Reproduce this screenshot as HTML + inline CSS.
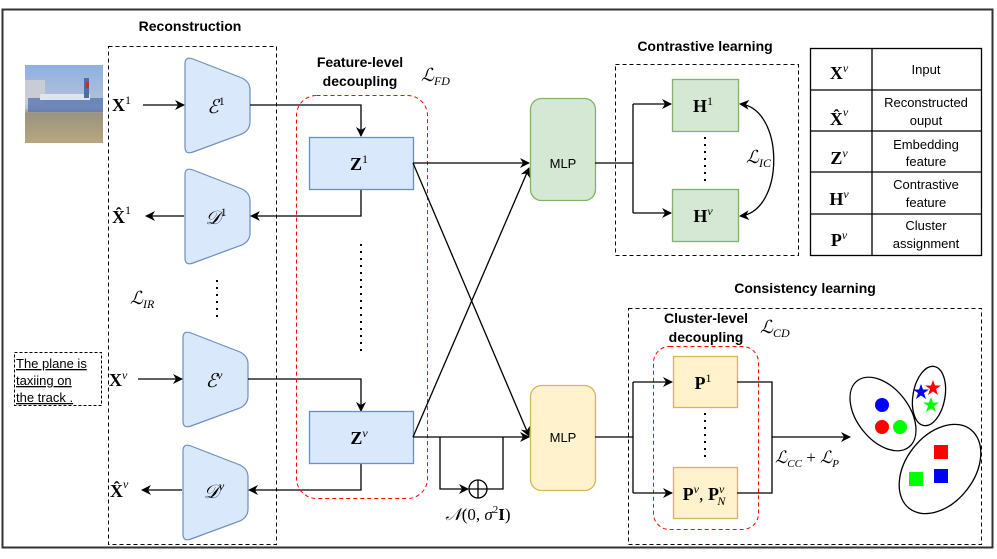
<!DOCTYPE html>
<html><head><meta charset="utf-8"><style>
html,body{margin:0;padding:0;background:#fff}
svg{display:block}
.t{font-family:"Liberation Sans",sans-serif}
.m{font-family:"Liberation Serif",serif}
</style></head><body>
<svg width="997" height="559" viewBox="0 0 997 559" xmlns="http://www.w3.org/2000/svg">
<defs>
<marker id="a" markerWidth="10" markerHeight="10" refX="9" refY="5" orient="auto" markerUnits="userSpaceOnUse"><path d="M0,0 L10,5 L0,10 L3,5 z" fill="#000"/></marker>
<marker id="b" markerWidth="10" markerHeight="10" refX="1" refY="5" orient="auto" markerUnits="userSpaceOnUse"><path d="M10,0 L0,5 L10,10 L7,5 z" fill="#000"/></marker>
<linearGradient id="sky" x1="0" y1="0" x2="0" y2="1"><stop offset="0" stop-color="#8fb0e0"/><stop offset="0.55" stop-color="#b8c4d8"/><stop offset="0.62" stop-color="#9a9480"/><stop offset="1" stop-color="#b8a67e"/></linearGradient>
</defs>
<rect x="2.5" y="9.5" width="990" height="538" fill="none" stroke="#333" stroke-width="2"/>

<!-- Reconstruction -->
<text x="190" y="31" class="t" font-size="14" font-weight="bold" text-anchor="middle">Reconstruction</text>
<rect x="108.5" y="46.5" width="168" height="498" fill="none" stroke="#000" stroke-dasharray="4,3"/>
<rect x="25" y="65" width="78" height="78" fill="url(#sky)"/>
<rect x="25" y="80" width="20" height="25" fill="#c8ccd4"/>
<rect x="28" y="98" width="75" height="14" fill="#5a78b0" opacity="0.8"/>
<rect x="40" y="94" width="50" height="6" fill="#e0e4ee"/>
<rect x="84" y="78" width="5" height="20" fill="#4a6ea8"/>
<rect x="86" y="82" width="3" height="6" fill="#c03030"/>

<g fill="#dae8fc" stroke="#6c8ebf" stroke-width="1.2">
<path d="M185,64 Q185,56 193,59 L242,78 Q250,82 250,90 L250,122 Q250,130 242,134 L193,152 Q185,155 185,147 Z"/>
<path d="M185,175 Q185,167 193,170 L242,189 Q250,193 250,201 L250,233 Q250,241 242,245 L193,263 Q185,266 185,258 Z"/>
<path d="M183,338 Q183,330 191,333 L240,352 Q248,356 248,364 L248,396 Q248,404 240,408 L191,426 Q183,429 183,421 Z"/>
<path d="M183,451 Q183,443 191,446 L240,465 Q248,469 248,477 L248,509 Q248,517 240,521 L191,539 Q183,542 183,534 Z"/>
</g>
<g class="m" font-style="italic" font-size="19" text-anchor="middle">
<text x="216" y="113">ℰ<tspan font-size="12" dy="-8" font-style="normal">1</tspan></text>
<text x="216" y="224">𝒟<tspan font-size="12" dy="-8" font-style="normal">1</tspan></text>
<text x="214" y="387">ℰ<tspan font-size="12" dy="-8">ν</tspan></text>
<text x="214" y="498">𝒟<tspan font-size="12" dy="-8">v</tspan></text>
</g>
<g class="m" font-weight="bold" font-size="18">
<text x="112" y="111">X<tspan font-size="12" dy="-7" font-weight="normal">1</tspan></text>
<text x="112" y="223">X̂<tspan font-size="12" dy="-9" font-weight="normal">1</tspan></text>
<text x="109" y="386">X<tspan font-size="12" dy="-7" font-weight="normal" font-style="italic">v</tspan></text>
<text x="110" y="497">X̂<tspan font-size="12" dy="-9" font-weight="normal" font-style="italic">ν</tspan></text>
</g>
<text x="130" y="304" class="m" font-style="italic" font-size="18">ℒ<tspan font-size="12" dy="4">IR</tspan></text>
<line x1="217" y1="280" x2="217" y2="318" stroke="#000" stroke-width="2" stroke-dasharray="2,5"/>
<rect x="14.5" y="352.5" width="87" height="53" fill="none" stroke="#000" stroke-dasharray="3,2"/>
<g class="t" font-size="13" text-decoration="underline"><text x="16" y="368">The plane is</text><text x="16" y="385">taxiing on</text><text x="16" y="402">the track .</text></g>

<g stroke="#000" stroke-width="1.3" fill="none">
<line x1="143" y1="105" x2="184" y2="105" marker-end="url(#a)"/>
<line x1="184" y1="216" x2="146" y2="216" marker-end="url(#a)"/>
<line x1="138" y1="379" x2="182" y2="379" marker-end="url(#a)"/>
<line x1="182" y1="490" x2="142" y2="490" marker-end="url(#a)"/>
<polyline points="250,105 361,105 361,136" marker-end="url(#a)"/>
<polyline points="361,190 361,216 251,216" marker-end="url(#a)"/>
<polyline points="248,379 361,379 361,411" marker-end="url(#a)"/>
<polyline points="361,463 361,490 249,490" marker-end="url(#a)"/>
</g>

<!-- feature-level -->
<text x="360" y="67" class="t" font-size="14" font-weight="bold" text-anchor="middle">Feature-level</text>
<text x="360" y="86" class="t" font-size="14" font-weight="bold" text-anchor="middle">decoupling</text>
<text x="421" y="81" class="m" font-style="italic" font-size="18">ℒ<tspan font-size="12" dy="4">FD</tspan></text>
<rect x="296.5" y="95.5" width="131" height="403" rx="20" fill="none" stroke="#f00" stroke-dasharray="4,3"/>
<rect x="309.5" y="137.5" width="104" height="52" fill="#dae8fc" stroke="#6c8ebf" stroke-width="1.3"/>
<rect x="309.5" y="411.5" width="104" height="52" fill="#dae8fc" stroke="#6c8ebf" stroke-width="1.3"/>
<g class="m" font-weight="bold" font-size="18" text-anchor="middle">
<text x="359" y="170">Z<tspan font-size="12" dy="-7" font-weight="normal">1</tspan></text>
<text x="359" y="444">Z<tspan font-size="12" dy="-7" font-weight="normal" font-style="italic">ν</tspan></text>
</g>
<line x1="361" y1="244" x2="361" y2="352" stroke="#000" stroke-width="2" stroke-dasharray="2,5"/>

<g stroke="#000" stroke-width="1.3" fill="none">
<line x1="413" y1="163" x2="529" y2="163" marker-end="url(#a)"/>
<line x1="413" y1="163" x2="529" y2="436" marker-end="url(#a)"/>
<line x1="413" y1="437" x2="529" y2="168" marker-end="url(#a)"/>
<line x1="413" y1="437" x2="529" y2="437" marker-end="url(#a)"/>
<polyline points="440,437 440,489 468,489" marker-end="url(#a)"/>
<polyline points="487,489 503,489 503,437"/>
<circle cx="478" cy="489" r="9"/>
<line x1="469" y1="489" x2="487" y2="489"/><line x1="478" y1="480" x2="478" y2="498"/>
</g>
<text x="478" y="520" class="m" font-size="17" text-anchor="middle"><tspan font-style="italic">𝒩</tspan>(0, <tspan font-style="italic">σ</tspan><tspan font-size="11" dy="-7">2</tspan><tspan dy="7" font-weight="bold">I</tspan>)</text>

<!-- MLPs -->
<rect x="530.5" y="98.5" width="65" height="102" rx="11" fill="#d5e8d4" stroke="#82b366" stroke-width="1.3"/>
<rect x="530.5" y="385.5" width="65" height="105" rx="11" fill="#fff2cc" stroke="#d6b656" stroke-width="1.3"/>
<text x="563" y="168" class="t" font-size="13" text-anchor="middle">MLP</text>
<text x="563" y="442" class="t" font-size="13" text-anchor="middle">MLP</text>

<!-- contrastive -->
<text x="705" y="51" class="t" font-size="14" font-weight="bold" text-anchor="middle">Contrastive learning</text>
<rect x="615.5" y="64.5" width="183" height="191" fill="none" stroke="#000" stroke-dasharray="4,3"/>
<rect x="672.5" y="79.5" width="66" height="52" fill="#d5e8d4" stroke="#82b366" stroke-width="1.3"/>
<rect x="672.5" y="189.5" width="66" height="52" fill="#d5e8d4" stroke="#82b366" stroke-width="1.3"/>
<g class="m" font-weight="bold" font-size="18" text-anchor="middle">
<text x="703" y="112">H<tspan font-size="12" dy="-7" font-weight="normal">1</tspan></text>
<text x="703" y="222">H<tspan font-size="12" dy="-7" font-weight="normal" font-style="italic">ν</tspan></text>
</g>
<line x1="705" y1="137" x2="705" y2="186" stroke="#000" stroke-width="2" stroke-dasharray="2,5"/>
<g stroke="#000" stroke-width="1.3" fill="none">
<line x1="595" y1="163" x2="633" y2="163"/>
<polyline points="633,104 633,213"/>
<line x1="633" y1="104" x2="671" y2="104" marker-end="url(#a)"/>
<line x1="633" y1="213" x2="671" y2="213" marker-end="url(#a)"/>
<path d="M740,104 C785,108 785,212 740,216" marker-start="url(#b)" marker-end="url(#a)"/>
</g>
<text x="746" y="163" class="m" font-style="italic" font-size="18">ℒ<tspan font-size="12" dy="4">IC</tspan></text>

<!-- table -->
<g stroke="#000" stroke-width="1.3" fill="none">
<rect x="810.5" y="48.5" width="171" height="207"/>
<line x1="872" y1="48" x2="872" y2="256"/>
<line x1="810" y1="90" x2="982" y2="90"/><line x1="810" y1="131" x2="982" y2="131"/>
<line x1="810" y1="172" x2="982" y2="172"/><line x1="810" y1="214" x2="982" y2="214"/>
</g>
<g class="m" font-weight="bold" font-size="18" text-anchor="middle">
<text x="839" y="79">X<tspan font-size="12" dy="-7" font-weight="normal" font-style="italic">v</tspan></text>
<text x="839" y="125">X̂<tspan font-size="12" dy="-9" font-weight="normal" font-style="italic">ν</tspan></text>
<text x="839" y="164">Z<tspan font-size="12" dy="-7" font-weight="normal" font-style="italic">v</tspan></text>
<text x="839" y="205">H<tspan font-size="12" dy="-7" font-weight="normal" font-style="italic">v</tspan></text>
<text x="839" y="246">P<tspan font-size="12" dy="-7" font-weight="normal" font-style="italic">v</tspan></text>
</g>
<g class="t" font-size="13" text-anchor="middle">
<text x="926" y="74">Input</text>
<text x="926" y="107">Reconstructed</text><text x="926" y="125">ouput</text>
<text x="926" y="149">Embedding</text><text x="926" y="166">feature</text>
<text x="926" y="189">Contrastive</text><text x="926" y="207">feature</text>
<text x="926" y="230">Cluster</text><text x="926" y="248">assignment</text>
</g>

<!-- consistency -->
<text x="805" y="293" class="t" font-size="14" font-weight="bold" text-anchor="middle">Consistency learning</text>
<rect x="628.5" y="308.5" width="353" height="236" fill="none" stroke="#000" stroke-dasharray="4,3"/>
<text x="706" y="323" class="t" font-size="14" font-weight="bold" text-anchor="middle">Cluster-level</text>
<text x="706" y="342" class="t" font-size="14" font-weight="bold" text-anchor="middle">decoupling</text>
<text x="760" y="333" class="m" font-style="italic" font-size="18">ℒ<tspan font-size="12" dy="4">CD</tspan></text>
<rect x="653.5" y="346.5" width="105" height="183" rx="16" fill="none" stroke="#f00" stroke-dasharray="4,3"/>
<rect x="673.5" y="356.5" width="64" height="51" fill="#fff2cc" stroke="#d6b656" stroke-width="1.3"/>
<rect x="673.5" y="467.5" width="64" height="51" fill="#fff2cc" stroke="#d6b656" stroke-width="1.3"/>
<g class="m" font-weight="bold" font-size="18" text-anchor="middle">
<text x="703" y="389">P<tspan font-size="12" dy="-7" font-weight="normal">1</tspan></text>
<text x="704" y="500">P<tspan font-size="12" dy="-7" font-weight="normal" font-style="italic">ν</tspan><tspan dy="7" font-weight="normal">, </tspan>P<tspan font-size="12" dy="-7" font-weight="normal" font-style="italic">ν</tspan><tspan font-size="12" dx="-7" dy="12" font-weight="normal" font-style="italic">N</tspan></text>
</g>
<line x1="705" y1="413" x2="705" y2="462" stroke="#000" stroke-width="2" stroke-dasharray="2,5"/>
<g stroke="#000" stroke-width="1.3" fill="none">
<line x1="595" y1="437" x2="633" y2="437"/>
<polyline points="633,382 633,493"/>
<line x1="633" y1="382" x2="672" y2="382" marker-end="url(#a)"/>
<line x1="633" y1="493" x2="672" y2="493" marker-end="url(#a)"/>
<polyline points="737,382 772,382 772,493 737,493"/>
<line x1="772" y1="437" x2="850" y2="437" marker-end="url(#a)"/>
<ellipse cx="883" cy="414" rx="26" ry="42" transform="rotate(-38 883 414)"/>
<ellipse cx="929" cy="396" rx="16" ry="30" transform="rotate(10 929 396)"/>
<ellipse cx="940" cy="469" rx="34" ry="50" transform="rotate(38 940 469)"/>
</g>
<text x="775" y="463" class="m" font-style="italic" font-size="17">ℒ<tspan font-size="11" dy="4">CC</tspan><tspan dy="-4" font-style="normal"> + </tspan>ℒ<tspan font-size="11" dy="4">P</tspan></text>
<circle cx="882" cy="405" r="7" fill="#00f"/>
<circle cx="882" cy="427" r="7" fill="#f00"/>
<circle cx="900" cy="427" r="7" fill="#0f0"/>
<g transform="translate(921,392)"><polygon points="0,-8 2,-2.5 8,-2.5 3,1 5,7 0,3.5 -5,7 -3,1 -8,-2.5 -2,-2.5" fill="#00f"/></g>
<g transform="translate(933,388)"><polygon points="0,-8 2,-2.5 8,-2.5 3,1 5,7 0,3.5 -5,7 -3,1 -8,-2.5 -2,-2.5" fill="#f00"/></g>
<g transform="translate(931,405)"><polygon points="0,-8 2,-2.5 8,-2.5 3,1 5,7 0,3.5 -5,7 -3,1 -8,-2.5 -2,-2.5" fill="#0f0"/></g>
<rect x="934" y="445" width="14" height="14" fill="#f00"/>
<rect x="934" y="469" width="14" height="14" fill="#00f"/>
<rect x="909" y="472" width="14" height="14" fill="#0f0"/>
</svg>
</body></html>
